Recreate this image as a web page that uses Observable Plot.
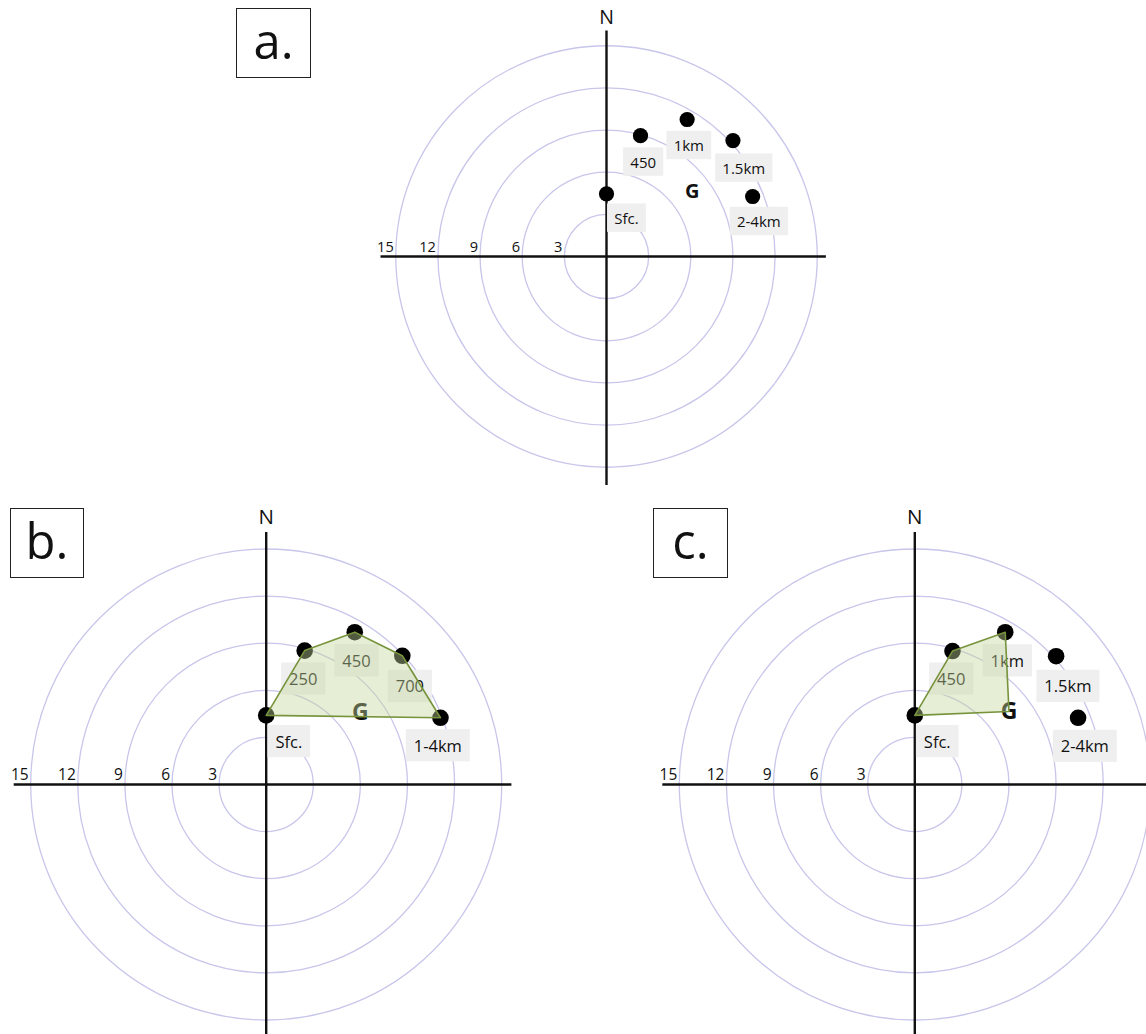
<!DOCTYPE html>
<html><head><meta charset="utf-8">
<script src="https://cdn.jsdelivr.net/npm/d3@7"></script>
<script src="https://cdn.jsdelivr.net/npm/@observablehq/plot@0.6"></script>
<style>
html,body{margin:0;padding:0;background:#fff;overflow:hidden;}
#fig{position:relative;width:1146px;height:1034px;font-family:"Open Sans",Lato,sans-serif;overflow:hidden;}
.panel{position:absolute;}
.tag{position:absolute;border:1.5px solid #222;box-sizing:border-box;display:flex;align-items:center;justify-content:center;font-size:49px;color:#111;line-height:1;padding-bottom:6px;}
</style></head><body><div id="fig"></div>
<script>
// ---- shared ----
const rings = [3, 6, 9, 12, 15];
const tags = ["a.", "b.", "c."];

// ---- panel a ----
const aLevels = ["Sfc.", "450", "1km", "1.5km", "2-4km"];
const aU = [0, 2.42, 5.74, 9.0, 10.4];
const aV = [4.46, 8.6, 9.75, 8.25, 4.27];
const aLabelU = [1.42, 2.61, 5.86, 9.77, 10.84];
const aLabelV = [2.68, 6.67, 7.85, 6.24, 2.44];
const aG = [6.1, 4.6];

// ---- panel b ----
const bLevels = ["Sfc.", "250", "450", "700", "1-4km"];
const bU = [0, 2.45, 5.64, 8.67, 11.1];
const bV = [4.4, 8.53, 9.7, 8.2, 4.25];
const bLabelU = [1.44, 2.36, 5.75, 9.15, 10.93];
const bLabelV = [2.69, 6.67, 7.83, 6.2, 2.42];
const bG = [6.0, 4.6];
const bPolyLevels = ["Sfc.", "250", "450", "700", "1-4km"];

// ---- panel c ----
const cLevels = ["Sfc.", "450", "1km", "1.5km", "2-4km"];
const cU = [0, 2.4, 5.76, 9.0, 10.4];
const cV = [4.4, 8.5, 9.7, 8.17, 4.25];
const cLabelU = [1.43, 2.32, 5.89, 9.75, 10.83];
const cLabelV = [2.69, 6.67, 7.83, 6.2, 2.38];
const cG = [6.0, 4.65];
const cPolyLevels = ["Sfc.", "450", "1km", "G"];

const fig = document.getElementById("fig");
const SVGNS = "http://www.w3.org/2000/svg";

function panel(cfg) {
  const {left, top, width, height, cx, cy, scale, levels, u, v, lu, lv, g, poly,
         tickSize, labelSize, nSize, gSize, dotR} = cfg;
  const pts = levels.map((l, i) => ({level: l, u: u[i], v: v[i], lu: lu[i], lv: lv[i]}));
  const lookup = new Map(pts.map(d => [d.level, [d.u, d.v]]));
  lookup.set("G", g);
  const polyPts = poly ? poly.map(k => ({u: lookup.get(k)[0], v: lookup.get(k)[1]})) : [];
  const marks = [
    Plot.dot(rings, {x: () => 0, y: () => 0, r: d => d, stroke: "#c8c6ea", strokeWidth: 1.3, fill: "none"}),
    Plot.ruleY([0], {x1: -16.05, x2: 15.65, stroke: "#111", strokeWidth: 2.4}),
    Plot.ruleX([0], {y1: 16.05, y2: -16.3, stroke: "#111", strokeWidth: 2.4}),
    Plot.text(rings, {x: d => -d, y: () => 0, text: d => String(d), textAnchor: "end", lineAnchor: "bottom", dx: -2, dy: -5, fontSize: tickSize, fill: "#111"}),
    Plot.text(["N"], {x: () => 0, y: () => 17, text: d => d, fontSize: nSize, fill: "#111"}),
    Plot.dot(pts, {x: "u", y: "v", r: dotR, fill: "#000"}),
    Plot.text(pts, {x: "lu", y: "lv", text: "level", fontSize: labelSize, fill: "#111", ariaLabel: "point-labels"}),
    Plot.text([g], {x: d => d[0], y: d => d[1], text: () => "G", fontSize: gSize, fontWeight: "bold", fill: "#111"})
  ];
  if (poly) {
    marks.push(Plot.line(polyPts, {x: "u", y: "v", curve: "linear-closed", stroke: "#77933c", strokeWidth: 1.6, fill: "#c3d69b", fillOpacity: 0.42}));
  }
  const chart = Plot.plot({
    width, height,
    marginTop: 0, marginRight: 0, marginBottom: 0, marginLeft: 0,
    x: {domain: [-cx / scale, (width - cx) / scale], axis: null},
    y: {domain: [-(height - cy) / scale, cy / scale], axis: null},
    r: {type: "linear", domain: [0, 15], range: [0, 15 * scale]},
    style: {fontFamily: "'Open Sans', Lato, sans-serif", background: "transparent", overflow: "hidden"},
    marks
  });
  chart.classList.add("panel");
  chart.style.left = left + "px";
  chart.style.top = top + "px";
  fig.appendChild(chart);
  // light grey boxes behind the point labels
  const names = new Set(levels);
  const texts = Array.from(chart.querySelectorAll("text")).filter(t => names.has(t.textContent.trim()));
  const px = labelSize * 0.48, py = labelSize * 0.28;
  texts.forEach(t => {
    const b = t.getBBox();
    const r = document.createElementNS(SVGNS, "rect");
    r.setAttribute("x", b.x - px);
    r.setAttribute("y", b.y - py);
    r.setAttribute("width", b.width + 2 * px);
    r.setAttribute("height", b.height + 2 * py);
    r.setAttribute("fill", "#efefef");
    const tr = t.getAttribute("transform");
    if (tr) r.setAttribute("transform", tr);
    t.parentNode.insertBefore(r, t);
  });
  // keep boxes behind all labels: move rects to front of their group
  texts.forEach(t => { const p = t.parentNode; p.querySelectorAll("rect").forEach(r => p.insertBefore(r, p.firstChild)); });
}

panel({left: 360, top: 0, width: 480, height: 490, cx: 246, cy: 256, scale: 14.05,
  levels: aLevels, u: aU, v: aV, lu: aLabelU, lv: aLabelV, g: aG, poly: null,
  tickSize: 14.6, labelSize: 15, nSize: 19.5, gSize: 20, dotR: 7.6});
panel({left: 0, top: 490, width: 580, height: 544, cx: 265.7, cy: 294, scale: 15.7,
  levels: bLevels, u: bU, v: bV, lu: bLabelU, lv: bLabelV, g: bG, poly: bPolyLevels,
  tickSize: 15.5, labelSize: 16.5, nSize: 20.5, gSize: 23, dotR: 8.3});
panel({left: 600, top: 490, width: 546, height: 544, cx: 314.3, cy: 294, scale: 15.7,
  levels: cLevels, u: cU, v: cV, lu: cLabelU, lv: cLabelV, g: cG, poly: cPolyLevels,
  tickSize: 15.5, labelSize: 16.5, nSize: 20.5, gSize: 23, dotR: 8.3});

// panel tags
const tagBoxes = [[236, 8, 75, 70], [10, 508, 74, 70], [653, 508, 75, 70]];
tags.forEach((t, i) => {
  const d = document.createElement("div");
  d.className = "tag";
  const [x, y, w, h] = tagBoxes[i];
  Object.assign(d.style, {left: x + "px", top: y + "px", width: w + "px", height: h + "px"});
  d.textContent = t;
  fig.appendChild(d);
});
</script></body></html>
